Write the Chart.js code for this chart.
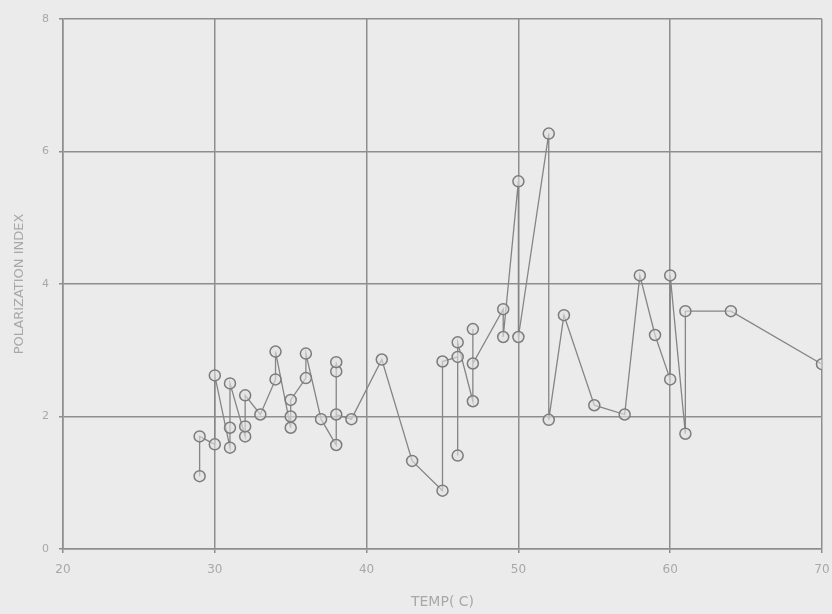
<!DOCTYPE html>
<html>
<head>
<meta charset="utf-8">
<script src="https://cdn.jsdelivr.net/npm/chart.js@4"></script>
<style>
  html, body { margin: 0; padding: 0; background: #ebebeb; }
  #wrap { width: 832px; height: 614px; }
</style>
</head>
<body>
<div id="wrap"><canvas id="chart" width="832" height="614"></canvas></div>
<script>
// Temperature (C) of each reading, in the order the line joins them
const temps = [29, 29, 30, 30, 31, 31, 31, 32, 32, 32, 33, 34, 34, 35, 35, 35, 36, 36, 37,
  38, 38, 38, 38, 39, 41, 43, 45, 45, 46, 46, 46, 47, 47, 47, 49, 49, 50, 50, 52, 52,
  53, 55, 57, 58, 59, 60, 60, 61, 61, 64, 70];
// Polarization index for each reading
const polIndex = [1.1, 1.7, 1.58, 2.62, 1.53, 1.83, 2.5, 1.7, 1.85, 2.32, 2.03, 2.56, 2.98, 1.83, 2.0, 2.25, 2.58, 2.95, 1.96,
  1.57, 2.68, 2.82, 2.03, 1.96, 2.86, 1.33, 0.88, 2.83, 2.9, 1.41, 3.12, 2.23, 3.32, 2.8, 3.62, 3.2, 5.55, 3.2, 6.27, 1.95,
  3.53, 2.17, 2.03, 4.13, 3.23, 2.56, 4.13, 1.74, 3.59, 3.59, 2.79];

const xTicks = [20, 30, 40, 50, 60, 70];
const yTicks = [0, 2, 4, 6, 8];

const points = temps.map((t, i) => ({ x: t, y: polIndex[i] }));

const textColor = '#a8a8a8';
const gridColor = '#8e8e8e';
const markColor = '#7c7c7c';

new Chart(document.getElementById('chart'), {
  type: 'scatter',
  data: {
    datasets: [{
      label: 'Polarization index',
      data: points,
      showLine: true,
      borderColor: '#858585',
      borderWidth: 1.3,
      pointRadius: 5.5,
      pointBorderWidth: 1.5,
      pointBackgroundColor: 'rgba(225,225,225,0.6)',
      pointBorderColor: markColor,
      tension: 0
    }]
  },
  options: {
    responsive: false,
    animation: false,
    layout: { padding: { top: 19, right: 10, left: 0, bottom: 0 } },
    plugins: {
      legend: { display: false },
      tooltip: { enabled: false }
    },
    scales: {
      x: {
        type: 'linear',
        min: 20,
        max: 70,
        afterBuildTicks: axis => { axis.ticks = xTicks.map(v => ({ value: v })); },
        afterFit: axis => {
          axis.height = 65;
          axis.paddingRight = 0;
        },
        grid: { color: gridColor, lineWidth: 1.5, tickLength: 4, drawTicks: true },
        border: { color: gridColor, width: 1.5 },
        ticks: { color: textColor, font: { family: 'DejaVu Sans', size: 12 }, padding: 10 },
        title: { display: true, text: 'TEMP( C)', color: textColor, font: { family: 'DejaVu Sans', size: 14 }, padding: { top: 2, bottom: 3 } }
      },
      y: {
        type: 'linear',
        min: 0,
        max: 8,
        afterBuildTicks: axis => { axis.ticks = yTicks.map(v => ({ value: v })); },
        afterFit: axis => { axis.width = 63; },
        grid: { color: gridColor, lineWidth: 1.5, tickLength: 4, drawTicks: true },
        border: { color: gridColor, width: 1.5 },
        ticks: { color: textColor, font: { family: 'DejaVu Sans', size: 11 }, padding: 10 },
        title: { display: true, text: 'POLARIZATION INDEX', color: textColor, font: { family: 'DejaVu Sans', size: 13 }, padding: { top: 12, bottom: 4 } }
      }
    }
  }
});
</script>
</body>
</html>
